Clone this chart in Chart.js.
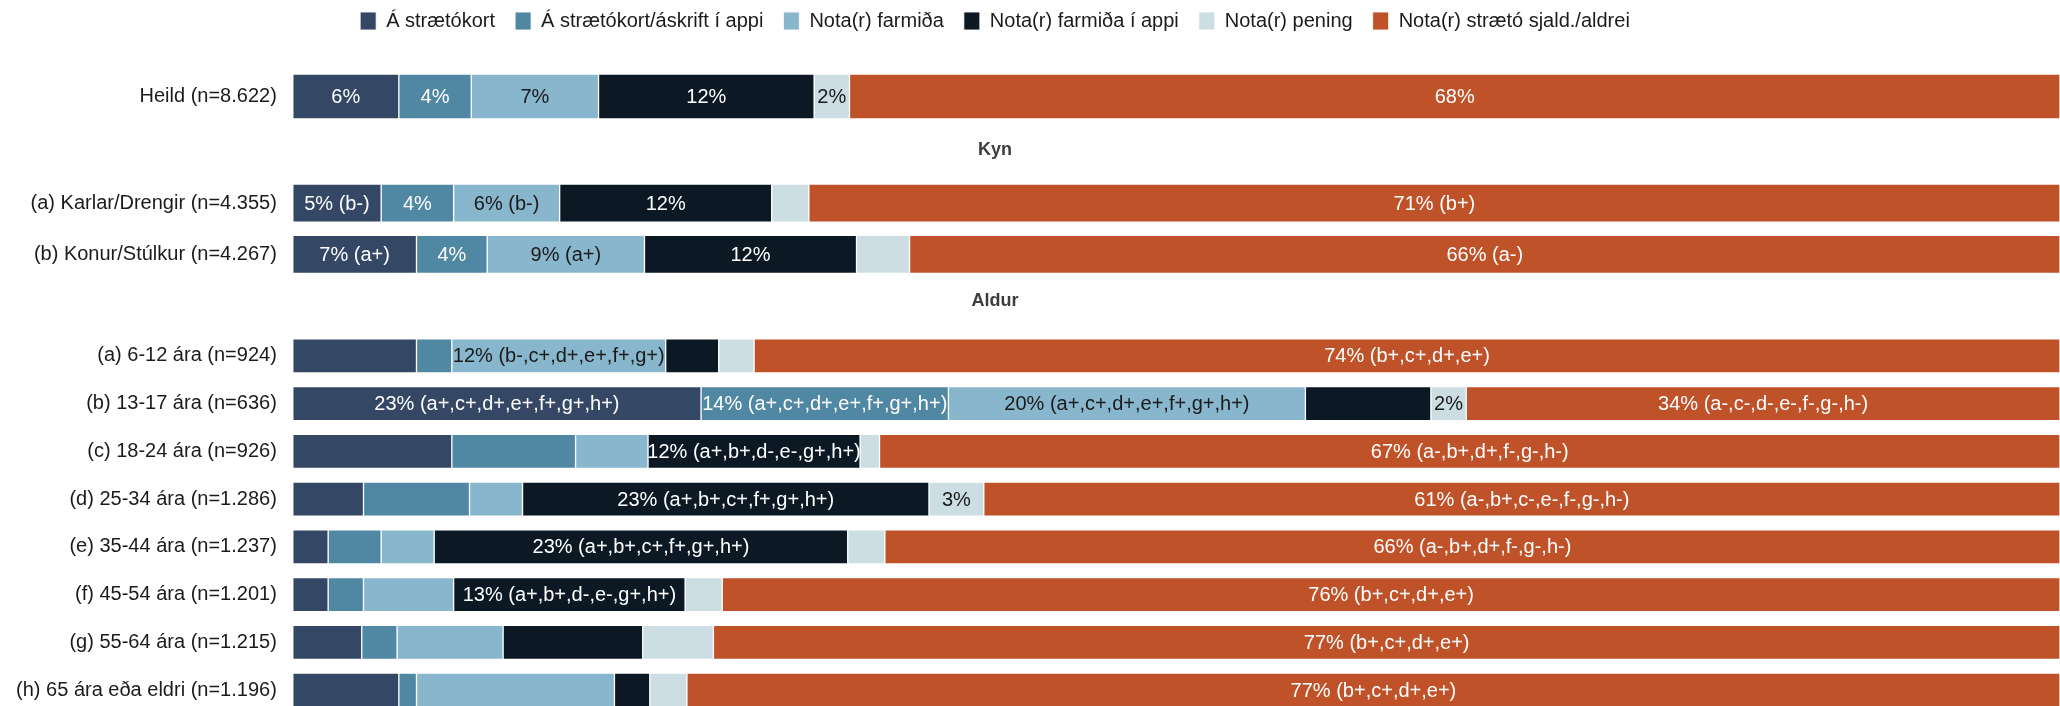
<!DOCTYPE html>
<html lang="is">
<head>
<meta charset="utf-8">
<title>Notkun strætó</title>
<script src="https://cdn.jsdelivr.net/npm/chart.js@4.4.1/dist/chart.umd.min.js"></script>
<style>
  html, body { margin: 0; padding: 0; background: #fff; overflow: hidden; }
  body { width: 2060px; height: 706px; position: relative; }
  /* panels are a bit wider than the page so legend and strip titles centre where the original did */
  .panel { position: absolute; left: -70px; width: 2130px; }
</style>
</head>
<body>
<div class="panel" style="top:-9px;height:161px"><canvas id="chart-heild"></canvas></div>
<div class="panel" style="top:129px;height:151px"><canvas id="chart-kyn"></canvas></div>
<div class="panel" style="top:280px;height:434px"><canvas id="chart-aldur"></canvas></div>
<script>
// ---- data ------------------------------------------------------------------
var rowsHeild = ['Heild (n=8.622)'];
var rowsKyn = ['(a) Karlar/Drengir (n=4.355)', '(b) Konur/Stúlkur (n=4.267)'];
var rowsAldur = [
    '(a) 6-12 ára (n=924)', '(b) 13-17 ára (n=636)', '(c) 18-24 ára (n=926)',
    '(d) 25-34 ára (n=1.286)', '(e) 35-44 ára (n=1.237)', '(f) 45-54 ára (n=1.201)',
    '(g) 55-64 ára (n=1.215)', '(h) 65 ára eða eldri (n=1.196)'
];
var titleKyn = 'Kyn';
var titleAldur = 'Aldur';

var seriesNames = [
    'Á strætókort', 'Á strætókort/áskrift í appi', 'Nota(r) farmiða',
    'Nota(r) farmiða í appi', 'Nota(r) pening', 'Nota(r) strætó sjald./aldrei'
];

// row order: Heild, Karlar, Konur, 6-12, 13-17, 18-24, 25-34, 35-44, 45-54, 55-64, 65+
var kort       = [6.0, 5.0, 7.0, 7.0, 23.1, 9.0, 4.0, 2.0, 2.0, 3.9, 6.0];
var kortApp    = [4.1, 4.1, 4.0, 2.0, 14.0, 7.0, 6.0, 3.0, 2.0, 2.0, 1.0];
var farmidi    = [7.2, 6.0, 8.9, 12.1, 20.2, 4.1, 3.0, 3.0, 5.1, 6.0, 11.2];
var farmidiApp = [12.2, 12.0, 12.0, 3.0, 7.1, 12.0, 23.0, 23.4, 13.1, 7.9, 2.0];
var peningur   = [2.0, 2.1, 3.0, 2.0, 2.0, 1.1, 3.1, 2.1, 2.1, 4.0, 2.1];
var sjaldan    = [68.5, 70.8, 65.1, 73.9, 33.6, 66.8, 60.9, 66.5, 75.7, 76.2, 77.7];

var kortText       = ['6%', '5% (b-)', '7% (a+)', '', '23% (a+,c+,d+,e+,f+,g+,h+)', '', '', '', '', '', ''];
var kortAppText    = ['4%', '4%', '4%', '', '14% (a+,c+,d+,e+,f+,g+,h+)', '', '', '', '', '', ''];
var farmidiText    = ['7%', '6% (b-)', '9% (a+)', '12% (b-,c+,d+,e+,f+,g+)', '20% (a+,c+,d+,e+,f+,g+,h+)', '', '', '', '', '', ''];
var farmidiAppText = ['12%', '12%', '12%', '', '', '12% (a+,b+,d-,e-,g+,h+)', '23% (a+,b+,c+,f+,g+,h+)',
                      '23% (a+,b+,c+,f+,g+,h+)', '13% (a+,b+,d-,e-,g+,h+)', '', ''];
var peningurText   = ['2%', '', '', '', '2%', '', '3%', '', '', '', ''];
var sjaldanText    = ['68%', '71% (b+)', '66% (a-)', '74% (b+,c+,d+,e+)', '34% (a-,c-,d-,e-,f-,g-,h-)',
                      '67% (a-,b+,d+,f-,g-,h-)', '61% (a-,b+,c-,e-,f-,g-,h-)', '66% (a-,b+,d+,f-,g-,h-)',
                      '76% (b+,c+,d+,e+)', '77% (b+,c+,d+,e+)', '77% (b+,c+,d+,e+)'];

// ---- style -----------------------------------------------------------------
var FILL = ['#344764', '#5087a2', '#88b6cc', '#0c1824', '#ccdee3', '#c05229'];
var INK = ['#ffffff', '#ffffff', '#1a1a1a', '#ffffff', '#1a1a1a', '#ffffff'];
var FONT = '"Liberation Sans", Arial, Helvetica, sans-serif';

Chart.defaults.font.family = FONT;
Chart.defaults.font.size = 20;
Chart.defaults.color = '#1b1b1b';
Chart.defaults.animation = false;

var values = [kort, kortApp, farmidi, farmidiApp, peningur, sjaldan];
var texts = [kortText, kortAppText, farmidiText, farmidiAppText, peningurText, sjaldanText];

// percentage text centred in each segment
var segmentLabels = {
    id: 'segmentLabels',
    afterDatasetsDraw: function (chart) {
        var ctx = chart.ctx;
        ctx.save();
        ctx.font = '20px ' + FONT;
        ctx.textAlign = 'center';
        ctx.textBaseline = 'middle';
        chart.data.datasets.forEach(function (ds, i) {
            var meta = chart.getDatasetMeta(i);
            ctx.fillStyle = ds.labelColor;
            meta.data.forEach(function (bar, j) {
                var t = ds.segmentText[j];
                if (!t) return;
                ctx.fillText(t, (bar.x + bar.base) / 2, bar.y + 1);
            });
        });
        ctx.restore();
    }
};

var datasets = function (from, count, thickness) {
    return seriesNames.map(function (name, i) {
        return {
            label: name,
            data: values[i].slice(from, from + count),
            segmentText: texts[i].slice(from, from + count),
            labelColor: INK[i],
            backgroundColor: FILL[i],
            borderColor: 'rgba(255,255,255,0.85)',
            borderWidth: 1,
            borderSkipped: false,
            barThickness: thickness
        };
    });
};

var panel = function (id, rows, from, thickness, legend, title) {
    return new Chart(document.getElementById(id), {
        type: 'bar',
        data: { labels: rows, datasets: datasets(from, rows.length, thickness) },
        options: {
            indexAxis: 'y',
            responsive: true,
            maintainAspectRatio: false,
            layout: { padding: 0 },
            plugins: {
                legend: legend,
                title: title,
                tooltip: { enabled: false }
            },
            scales: {
                x: { stacked: true, min: 0, max: 100, display: false },
                y: {
                    stacked: true,
                    grid: { display: false, drawTicks: false },
                    border: { display: false },
                    ticks: { padding: 16, autoSkip: false, color: '#1b1b1b', font: { size: 20 } },
                    afterFit: function (scale) {
                        // fixed label column; labels sit at row centres so no extra room above/below
                        scale.width = 362.8;
                        scale.paddingTop = 0;
                        scale.paddingBottom = 0;
                    }
                }
            }
        },
        plugins: [segmentLabels]
    });
};

var stripTitle = function (text, below) {
    return {
        display: true,
        text: text,
        color: '#3d3d3d',
        font: { size: 18, weight: 'bold' },
        padding: { top: 10, bottom: below }
    };
};

panel('chart-heild', rowsHeild, 0, 45, {
    display: true,
    position: 'top',
    align: 'center',
    labels: { boxWidth: 16, boxHeight: 18, padding: 20, color: '#1b1b1b', font: { size: 20 } }
}, { display: false });

panel('chart-kyn', rowsKyn, 1, 38, { display: false }, stripTitle(titleKyn, 17));
panel('chart-aldur', rowsAldur, 3, 34, { display: false }, stripTitle(titleAldur, 20.4));
</script>
</body>
</html>
